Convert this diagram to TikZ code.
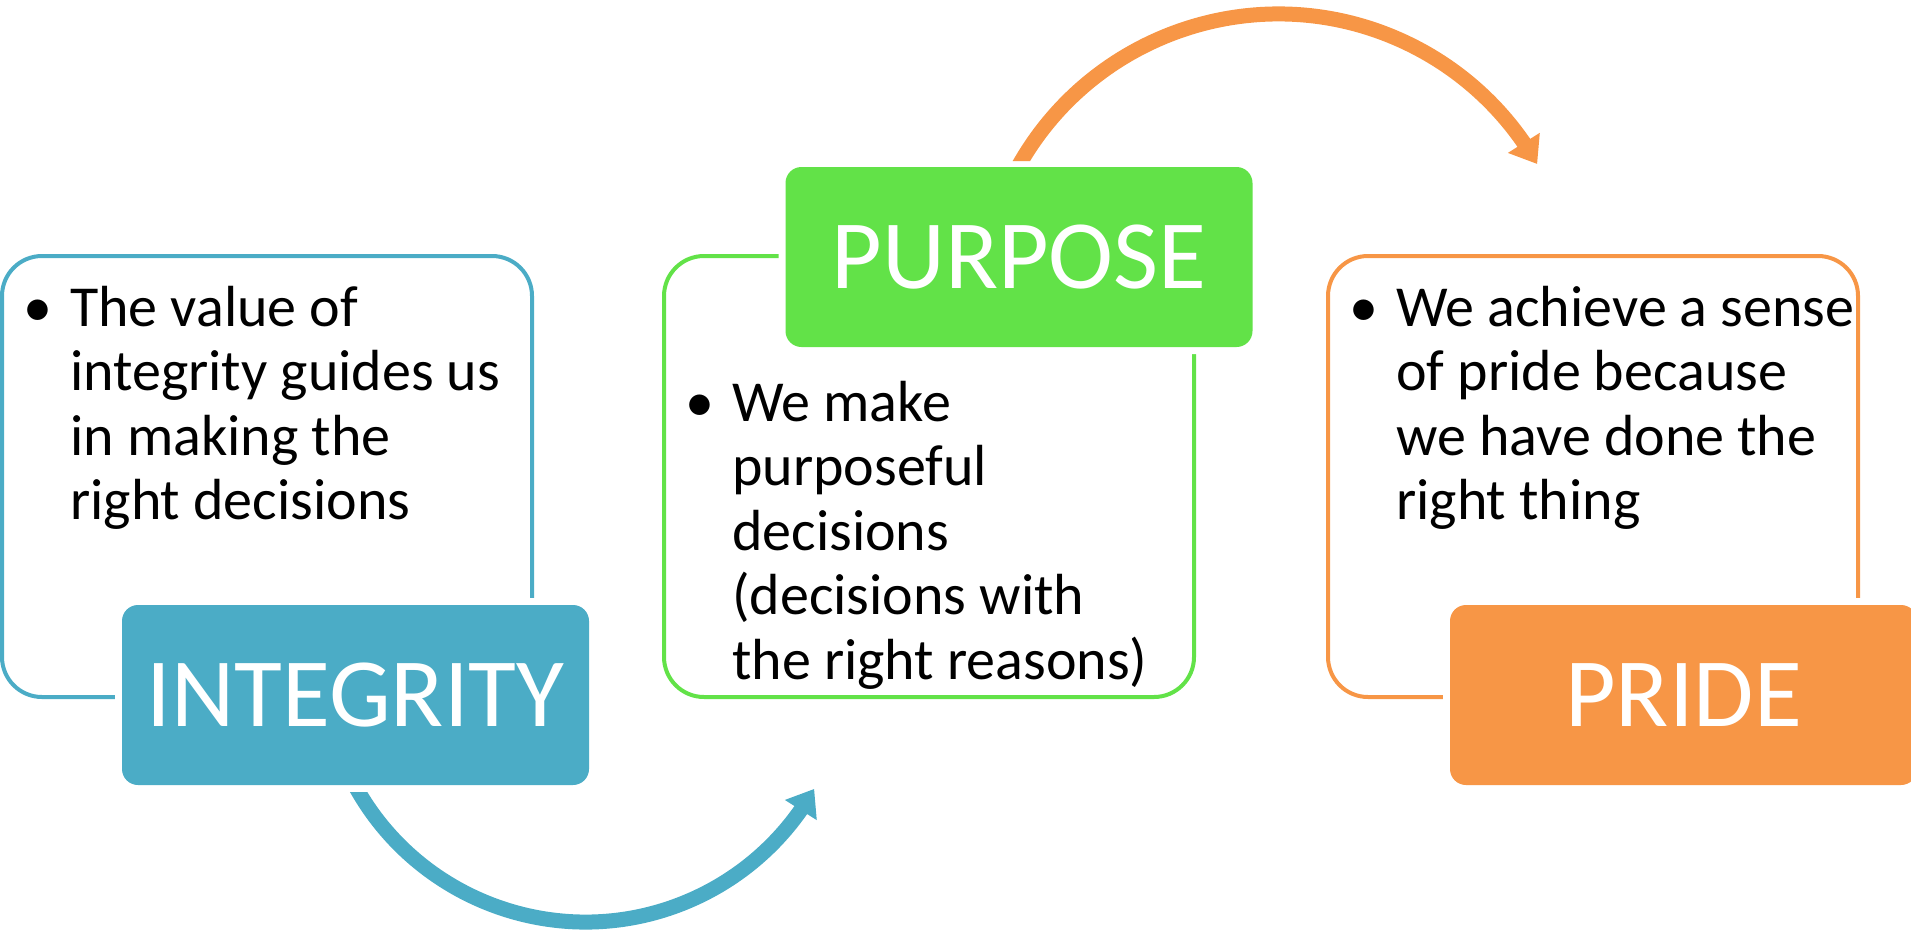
\documentclass[tikz,border=0pt]{standalone}
\usepackage{fontspec}
\setmainfont{Carlito}
\usetikzlibrary{arrows.meta,bending}
\definecolor{cblue}{RGB}{75,172,198}
\definecolor{cgreen}{RGB}{98,226,72}
\definecolor{corange}{RGB}{247,150,70}
\newcommand\bodyfont{\fontsize{58}{64.5}\selectfont}
\newcommand\titlefont{\fontsize{98}{104}\selectfont}
\newcommand\bul{\llap{\textbullet\hskip 18pt}}
\begin{document}
\begin{tikzpicture}[x=1pt,y=1pt,
  outbox/.style={draw, line width=4pt, rounded corners=40pt, minimum width=530pt, minimum height=441pt, inner sep=0pt, outer sep=0pt},
  titlebox/.style={rounded corners=16pt, minimum width=467pt, minimum height=180pt, inner sep=0pt, text=white, font=\titlefont, preaction={draw=white, line width=14pt}},
  bodytext/.style={anchor=base west, inner sep=0pt, font=\bodyfont},
  flow/.style={line width=15pt, -{Triangle[length=25pt,width=36pt]}}
]
\useasboundingbox (0,0) rectangle (1911,-929);

\node[outbox, draw=cblue] (intframe) at (267,-476.5) {};
\node[outbox, draw=cgreen] (purframe) at (929,-476.5) {};
\node[outbox, draw=corange] (priframe) at (1593,-476.5) {};

\node[titlebox, fill=cblue] (integrity) at (355.5,-695) {INTEGRITY};
\node[titlebox, fill=cgreen] (purpose) at (1019,-257) {PURPOSE};
\node[titlebox, fill=corange] (pride) at (1683.5,-695) {PRIDE};

\node[bodytext] (inttext) at (70,-326) {\vtop{\hbox{\bul The value of}\hbox{integrity guides us}\hbox{in making the}\hbox{right decisions}}};
\node[bodytext] (purtext) at (732,-421) {\vtop{\hbox{\bul We make}\hbox{purposeful}\hbox{decisions}\hbox{(decisions with}\hbox{the right reasons)}}};
\node[bodytext] (pritext) at (1396,-326) {\vtop{\hbox{\bul We achieve a sense}\hbox{of pride because}\hbox{we have done the}\hbox{right thing}}};

\coordinate (bc) at (585.5,-659);
\begin{scope}
\clip (0,-792) rectangle (700,-940) (700,10) rectangle (1920,-940);
\draw[flow, cblue] ([shift={(205:263)}]bc) arc[start angle=205, end angle=330.4, radius=263];
\end{scope}

\coordinate (oc) at (1278.4,-312.2);
\begin{scope}
\clip (900,-161) rectangle (1150,20) (1150,20) rectangle (1920,-400);
\draw[flow, corange] ([shift={(155:298.2)}]oc) arc[start angle=155, end angle=29.8, radius=298.2];
\end{scope}
\end{tikzpicture}
\end{document}
